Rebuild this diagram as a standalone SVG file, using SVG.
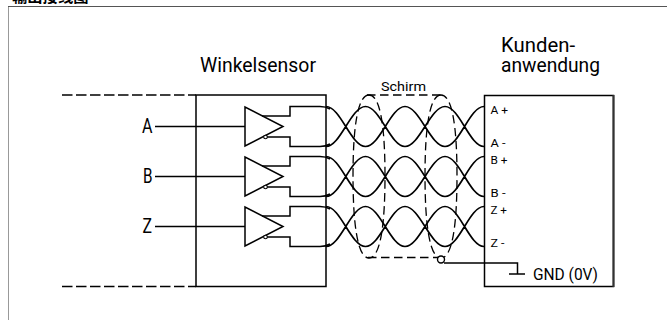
<svg xmlns="http://www.w3.org/2000/svg" width="667" height="320" viewBox="0 0 667 320">
<style>
.l{fill:none;stroke:#000;stroke-width:1.5}
.w{fill:none;stroke:#000;stroke-width:1.7}
.d{fill:none;stroke:#000;stroke-width:1.4;stroke-dasharray:10.500 3.500}
.b{fill:none;stroke:#000;stroke-width:1.300;stroke-dasharray:8.500 4.500}
text{font-family:"Roboto","Liberation Sans",sans-serif;fill:#000;font-weight:400}
.t{font-size:19.500px}.m{font-size:16px}.s{font-size:11.500px}
</style>
<defs>
<g id="drv">
<path class="l" d="M245 107V146L283 126.500Z"/>
<path class="l" d="M155 126.500H245M262 116H290V106.500H320Q326 106.500 330 109"/>
<path class="l" d="M266 137H290V146.500H320Q326 146.500 330 144"/>
<circle cx="265.500" cy="137" r="1.800" fill="#fff" stroke="#000" stroke-width="1.100"/>
</g>
<path id="tw" class="w" d="M326 106.500C340.500 106.500 351 146.500 365.500 146.500S390.500 106.500 405 106.500S430.500 146.500 445 146.500S469.500 106.500 484 106.500M326 146.500C340.500 146.500 351 106.500 365.500 106.500S390.500 146.500 405 146.500S430.500 106.500 445 106.500S469.500 146.500 484 146.500"/>
</defs>
<text x="12" y="2" style="font-family:'Noto Sans CJK SC',sans-serif;font-weight:700;font-size:15.300px">输出接线图</text>
<path d="M8.500 320V6" fill="none" stroke="#999" stroke-width="1"/>
<path d="M8 6.500H667" fill="none" stroke="#555" stroke-width="1"/>
<g id="sensor"><rect class="l" x="196" y="95" width="130" height="191.500"/><text class="t" x="200" y="71.500" textLength="116" lengthAdjust="spacingAndGlyphs">Winkelsensor</text></g>
<g id="kunde"><rect class="l" x="484.500" y="95.500" width="129" height="191"/><path d="M613.500 95V287" stroke="#333" stroke-width="2" fill="none"/><text class="t" x="501" y="51.500" textLength="74" lengthAdjust="spacingAndGlyphs">Kunden-</text><text class="t" x="501" y="71.500" textLength="99" lengthAdjust="spacingAndGlyphs">anwendung</text>
<text class="s" x="490.500" y="114" textLength="17.500" lengthAdjust="spacingAndGlyphs">A +</text><text class="s" x="490.500" y="147" textLength="15" lengthAdjust="spacingAndGlyphs">A -</text><text class="s" x="490.500" y="164" textLength="17" lengthAdjust="spacingAndGlyphs">B +</text><text class="s" x="490.500" y="197" textLength="15" lengthAdjust="spacingAndGlyphs">B -</text><text class="s" x="490.500" y="214" textLength="16.500" lengthAdjust="spacingAndGlyphs">Z +</text><text class="s" x="490.500" y="247" textLength="14" lengthAdjust="spacingAndGlyphs">Z -</text>
<text class="m" x="533" y="280" textLength="65" lengthAdjust="spacingAndGlyphs">GND (0V)</text></g>
<g id="io"><path class="d" d="M62 95H196M62 286.500H196"/><text class="t" x="142" y="132.500" textLength="10.500" lengthAdjust="spacingAndGlyphs">A</text><text class="t" x="143" y="182.500" textLength="9.500" lengthAdjust="spacingAndGlyphs">B</text><text class="t" x="142.500" y="232.500" textLength="9.500" lengthAdjust="spacingAndGlyphs">Z</text></g>
<g id="connectors">
<use href="#drv"/><use href="#drv" y="50"/><use href="#drv" y="100"/>
<use href="#tw"/><use href="#tw" y="50"/><use href="#tw" y="100"/>
<path class="l" d="M444 263H517.500V274M509 274H525"/>
</g>
<g id="schirm">
<path class="b" d="M367 95H442M368 257.500H438"/>
<path class="b" d="M369 95C358 95 353 125 353 176S358 258 369 258C380 258 385 227 385 176S380 95 369 95Z"/>
<path class="b" d="M441 95C430 95 425 125 425 176S430 258 441 258C452 258 457 227 457 176S452 95 441 95Z"/>
<circle cx="441" cy="259.500" r="3.500" fill="#fff" stroke="#000" stroke-width="1.400"/>
<text x="381" y="91" style="font-size:13px" textLength="45" lengthAdjust="spacingAndGlyphs">Schirm</text>
</g>
</svg>
